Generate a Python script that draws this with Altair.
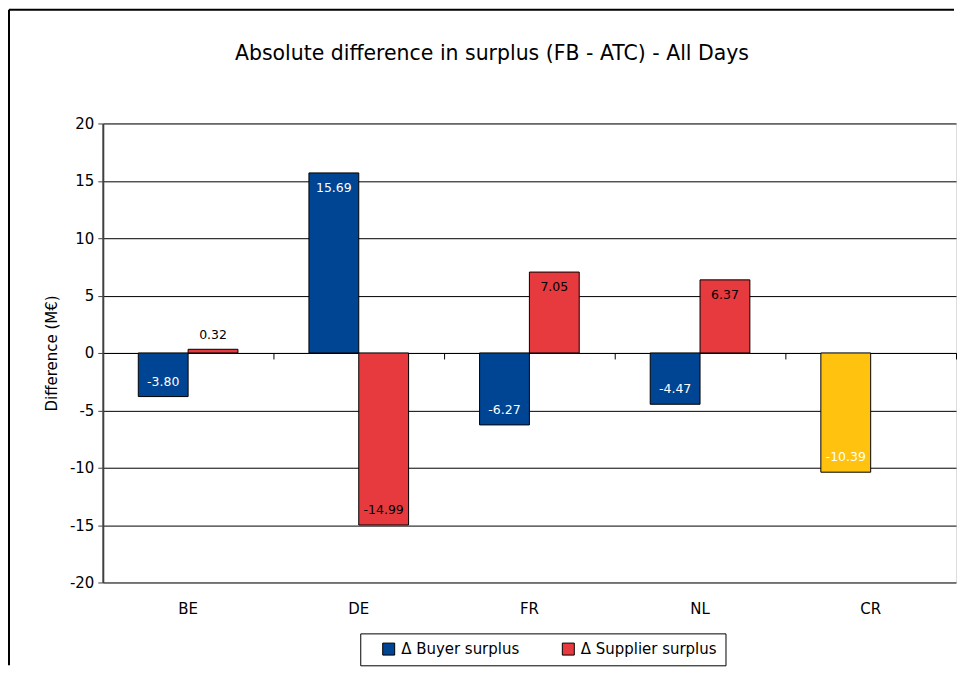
import altair as alt
import pandas as pd

# ---- data ----
categories = ["BE", "DE", "FR", "NL", "CR"]
buyer_surplus = [-3.80, 15.69, -6.27, -4.47]      # BE, DE, FR, NL
supplier_surplus = [0.32, -14.99, 7.05, 6.37]     # BE, DE, FR, NL
congestion_rent = -10.39                          # CR
BUY = "Δ Buyer surplus"
SUP = "Δ Supplier surplus"
CRK = "Δ Congestion rent"
y_ticks = [-20, -15, -10, -5, 0, 5, 10, 15, 20]
TITLE = "Absolute difference in surplus (FB - ATC) - All Days"

rows = []
for c, b, s in zip(categories[:4], buyer_surplus, supplier_surplus):
    rows.append(dict(cat=c, slot=BUY, key=BUY, value=b))
    rows.append(dict(cat=c, slot=SUP, key=SUP, value=s))
rows.append(dict(cat="CR", slot=BUY, key=CRK, value=congestion_rent))
df = pd.DataFrame(rows)

FONT = "DejaVu Sans"
BLUE, RED, YELLOW = "#004494", "#E63A3F", "#FFC20E"

W, H = 855, 460
P_IN, P_OUT = 0.416, 0.208
mid_gap = 1 + 0.5 * P_IN / (1 - P_IN)   # tick between categories

x_scale = alt.Scale(domain=categories, paddingInner=P_IN, paddingOuter=P_OUT)
y_scale = alt.Scale(domain=[-20, 20], nice=False)
xoff = alt.XOffset("slot:N", scale=alt.Scale(domain=[BUY, SUP]))

y_enc = alt.Y(
    "value:Q", scale=y_scale, title="Difference (M€)",
    axis=alt.Axis(values=y_ticks, grid=True, gridColor="black", gridWidth=1,
                  domainColor="#404040", domainWidth=2, tickColor="#404040",
                  tickSize=5, labelFont=FONT, labelFontSize=15, labelColor="black",
                  labelPadding=4, labelExpr="replace(datum.label, '\u2212', '-')",
                  titleFont=FONT, titleFontSize=15,
                  titleFontWeight="normal", titleColor="black", titlePadding=10),
)

label_axis = alt.Axis(orient="bottom", domain=False, ticks=False, grid=False,
                      labelFont=FONT, labelFontSize=15, labelColor="black",
                      labelPadding=19, labelAngle=0, title=None)
zero_axis = alt.Axis(orient="bottom", offset=-H / 2, labels=False, domain=True,
                     domainColor="black", domainWidth=1, ticks=True,
                     bandPosition=mid_gap, tickColor="black", tickSize=6,
                     grid=False, title=None)

base = alt.Chart(df).transform_calculate(
    lab="replace(format(datum.value, '.2f'), '\u2212', '-')")

bars = alt.Chart(df).mark_bar(stroke="black", strokeWidth=1).encode(
    x=alt.X("cat:N", scale=x_scale, axis=label_axis),
    xOffset=xoff,
    y=y_enc,
    color=alt.Color(
        "key:N",
        scale=alt.Scale(domain=[BUY, SUP, CRK], range=[BLUE, RED, YELLOW]),
        legend=alt.Legend(orient="none", legendX=258, legendY=511,
                          direction="horizontal", title=None, values=[BUY, SUP],
                          symbolType="square", symbolSize=144,
                          symbolStrokeColor="black", symbolStrokeWidth=1,
                          labelFont=FONT, labelFontSize=15, labelColor="black",
                          strokeColor="black", padding=8, columnPadding=28,
                          symbolOffset=13, labelOffset=5),
    ),
)

txt_color = alt.condition(f"datum.key == '{SUP}'", alt.value("black"), alt.value("white"))

pos_in = base.transform_filter("datum.value >= 1").mark_text(
    font=FONT, fontSize=12.5, baseline="middle", dy=15).encode(
    x=alt.X("cat:N", scale=x_scale, axis=zero_axis), xOffset=xoff, y=y_enc,
    text="lab:N", color=txt_color)

neg_in = base.transform_filter("datum.value <= -1").mark_text(
    font=FONT, fontSize=12.5, baseline="middle", dy=-15).encode(
    x=alt.X("cat:N", scale=x_scale, axis=None), xOffset=xoff, y=y_enc,
    text="lab:N", color=txt_color)

small = base.transform_filter("abs(datum.value) < 1").mark_text(
    font=FONT, fontSize=12.5, baseline="middle", dy=-14, color="black").encode(
    x=alt.X("cat:N", scale=x_scale, axis=None), xOffset=xoff, y=y_enc,
    text="lab:N")

frame_df = pd.DataFrame({"t": [TITLE]})
left_border = alt.Chart(frame_df).mark_rule(color="black", strokeWidth=2).encode(
    x=alt.value(-94), y=alt.value(-114), y2=alt.value(543))
top_border = alt.Chart(frame_df).mark_rule(color="black", strokeWidth=2).encode(
    x=alt.value(-94), x2=alt.value(853), y=alt.value(-114))
title = alt.Chart(frame_df).mark_text(
    font=FONT, fontSize=20.5, baseline="alphabetic", align="center", color="black").encode(
    x=alt.value(390), y=alt.value(-64), text="t:N")

chart = alt.layer(bars, pos_in, neg_in, small, left_border, top_border, title).resolve_axis(
    x="independent"
).properties(
    width=W, height=H, padding=0,
).configure_view(fill="#C0C0C0", stroke="#808080", strokeWidth=2
).configure(background="white")

chart.save("out.html", embed_options={"renderer": "svg", "actions": False})
